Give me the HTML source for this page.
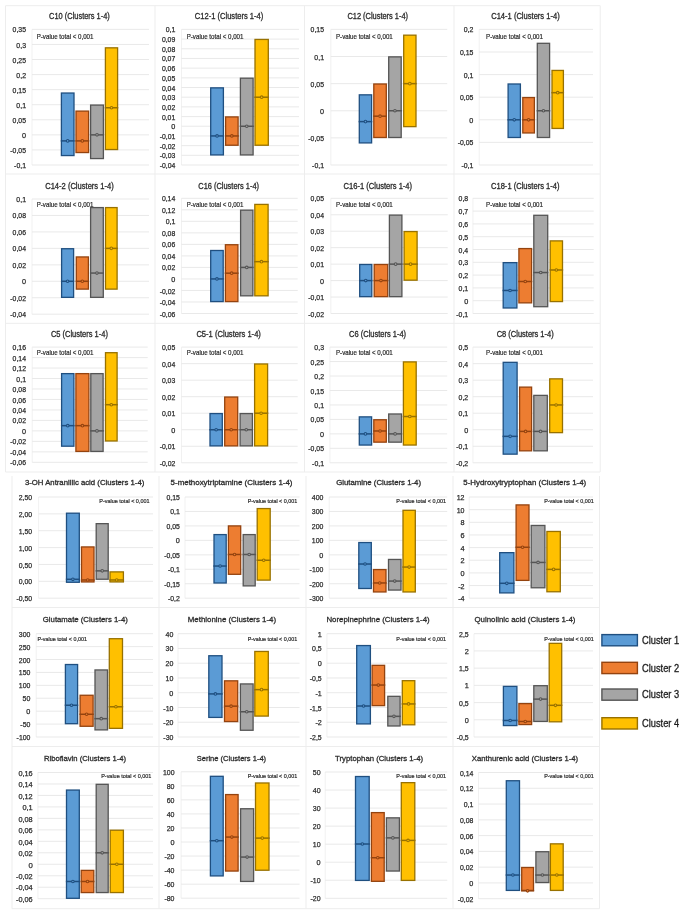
<!DOCTYPE html>
<html><head><meta charset="utf-8"><title>Clusters 1-4</title>
<style>html,body{margin:0;padding:0;background:#fff}svg{display:block}</style></head>
<body>
<svg width="685" height="914" viewBox="0 0 685 914" font-family="'Liberation Sans', sans-serif">
<rect width="685" height="914" fill="#fff"/>
<path d="M5.5 5.7H600.2M5.5 174H600.2M5.5 323.3H600.2M5.5 472H600.2M5.5 5.7V472M155 5.7V472M304.5 5.7V472M454 5.7V472M600.2 5.7V472M12 607.5H599.5M12 746.5H599.5M12 908.7H599.5M12 476V908.7M159 476V908.7M306 476V908.7M453 476V908.7M599.5 476V908.7" fill="none" stroke="#ededed" stroke-width="1"/>
<g>
<path d="M32.0 29.4V165.0" fill="none" stroke="#ededed" stroke-width="0.8"/>
<path d="M32.0 29.40H149.0M32.0 44.47H149.0M32.0 59.53H149.0M32.0 74.60H149.0M32.0 89.67H149.0M32.0 104.73H149.0M32.0 119.80H149.0M32.0 134.87H149.0M32.0 149.93H149.0M32.0 165.00H149.0" stroke="#e6e6e6" stroke-width="0.9" fill="none"/>
<g font-size="7.5" fill="#2b2b2b" stroke="#2b2b2b" stroke-width="0.25">
<text x="12.59" y="32.44" textLength="13.41" lengthAdjust="spacingAndGlyphs">0,35</text>
<text x="16.35" y="47.50" textLength="9.65" lengthAdjust="spacingAndGlyphs">0,3</text>
<text x="12.59" y="62.57" textLength="13.41" lengthAdjust="spacingAndGlyphs">0,25</text>
<text x="16.35" y="77.63" textLength="9.65" lengthAdjust="spacingAndGlyphs">0,2</text>
<text x="12.59" y="92.70" textLength="13.41" lengthAdjust="spacingAndGlyphs">0,15</text>
<text x="16.35" y="107.77" textLength="9.65" lengthAdjust="spacingAndGlyphs">0,1</text>
<text x="12.59" y="122.83" textLength="13.41" lengthAdjust="spacingAndGlyphs">0,05</text>
<text x="21.95" y="137.90" textLength="4.05" lengthAdjust="spacingAndGlyphs">0</text>
<text x="10.33" y="152.97" textLength="15.67" lengthAdjust="spacingAndGlyphs">-0,05</text>
<text x="14.08" y="168.03" textLength="11.92" lengthAdjust="spacingAndGlyphs">-0,1</text>
</g>
<rect x="61.40" y="93.03" width="12.60" height="62.53" fill="#5b9bd5" stroke="#1f4f80" stroke-width="1.3"/>
<path d="M60.75 140.89H74.65" stroke="#1f4f80" stroke-width="1.5"/>
<circle cx="67.70" cy="140.89" r="1.3" fill="#5b9bd5" stroke="#1f4f80" stroke-width="1.05"/>
<rect x="76.00" y="111.11" width="12.60" height="41.44" fill="#ed7d31" stroke="#94430f" stroke-width="1.3"/>
<path d="M75.35 140.89H89.25" stroke="#94430f" stroke-width="1.5"/>
<circle cx="82.30" cy="140.89" r="1.3" fill="#ed7d31" stroke="#94430f" stroke-width="1.05"/>
<rect x="90.60" y="105.08" width="12.80" height="53.49" fill="#a5a5a5" stroke="#555555" stroke-width="1.3"/>
<path d="M89.95 134.87H104.05" stroke="#555555" stroke-width="1.5"/>
<circle cx="97.00" cy="134.87" r="1.3" fill="#a5a5a5" stroke="#555555" stroke-width="1.05"/>
<rect x="105.40" y="47.83" width="12.20" height="101.70" fill="#ffc000" stroke="#987100" stroke-width="1.3"/>
<path d="M104.75 107.75H118.25" stroke="#987100" stroke-width="1.5"/>
<circle cx="111.50" cy="107.75" r="1.3" fill="#ffc000" stroke="#987100" stroke-width="1.05"/>
<text x="49.1" y="19" font-size="8.3" fill="#2b2b2b" stroke="#2b2b2b" stroke-width="0.3" textLength="60.7" lengthAdjust="spacingAndGlyphs">C10 (Clusters 1-4)</text>
<text x="36.7" y="38.63" font-size="6.8" fill="#2b2b2b" stroke="#2b2b2b" stroke-width="0.2" textLength="56.8" lengthAdjust="spacingAndGlyphs">P-value total &lt; 0,001</text>
</g>
<g>
<path d="M181.5 29.4V165.0" fill="none" stroke="#ededed" stroke-width="0.8"/>
<path d="M181.5 29.40H299.0M181.5 39.09H299.0M181.5 48.77H299.0M181.5 58.46H299.0M181.5 68.14H299.0M181.5 77.83H299.0M181.5 87.51H299.0M181.5 97.20H299.0M181.5 106.89H299.0M181.5 116.57H299.0M181.5 126.26H299.0M181.5 135.94H299.0M181.5 145.63H299.0M181.5 155.31H299.0M181.5 165.00H299.0" stroke="#e6e6e6" stroke-width="0.9" fill="none"/>
<g font-size="7.5" fill="#2b2b2b" stroke="#2b2b2b" stroke-width="0.25">
<text x="165.65" y="32.44" textLength="9.65" lengthAdjust="spacingAndGlyphs">0,1</text>
<text x="161.89" y="42.12" textLength="13.41" lengthAdjust="spacingAndGlyphs">0,09</text>
<text x="161.89" y="51.81" textLength="13.41" lengthAdjust="spacingAndGlyphs">0,08</text>
<text x="161.89" y="61.49" textLength="13.41" lengthAdjust="spacingAndGlyphs">0,07</text>
<text x="161.89" y="71.18" textLength="13.41" lengthAdjust="spacingAndGlyphs">0,06</text>
<text x="161.89" y="80.86" textLength="13.41" lengthAdjust="spacingAndGlyphs">0,05</text>
<text x="161.89" y="90.55" textLength="13.41" lengthAdjust="spacingAndGlyphs">0,04</text>
<text x="161.89" y="100.23" textLength="13.41" lengthAdjust="spacingAndGlyphs">0,03</text>
<text x="161.89" y="109.92" textLength="13.41" lengthAdjust="spacingAndGlyphs">0,02</text>
<text x="161.89" y="119.61" textLength="13.41" lengthAdjust="spacingAndGlyphs">0,01</text>
<text x="171.25" y="129.29" textLength="4.05" lengthAdjust="spacingAndGlyphs">0</text>
<text x="159.63" y="138.98" textLength="15.67" lengthAdjust="spacingAndGlyphs">-0,01</text>
<text x="159.63" y="148.66" textLength="15.67" lengthAdjust="spacingAndGlyphs">-0,02</text>
<text x="159.63" y="158.35" textLength="15.67" lengthAdjust="spacingAndGlyphs">-0,03</text>
<text x="159.63" y="168.03" textLength="15.67" lengthAdjust="spacingAndGlyphs">-0,04</text>
</g>
<rect x="210.70" y="87.86" width="12.70" height="67.05" fill="#5b9bd5" stroke="#1f4f80" stroke-width="1.3"/>
<path d="M210.05 135.94H224.05" stroke="#1f4f80" stroke-width="1.5"/>
<circle cx="217.05" cy="135.94" r="1.3" fill="#5b9bd5" stroke="#1f4f80" stroke-width="1.05"/>
<rect x="225.60" y="116.92" width="12.50" height="28.31" fill="#ed7d31" stroke="#94430f" stroke-width="1.3"/>
<path d="M224.95 135.94H238.75" stroke="#94430f" stroke-width="1.5"/>
<circle cx="231.85" cy="135.94" r="1.3" fill="#ed7d31" stroke="#94430f" stroke-width="1.05"/>
<rect x="240.40" y="78.18" width="12.70" height="76.74" fill="#a5a5a5" stroke="#555555" stroke-width="1.3"/>
<path d="M239.75 126.26H253.75" stroke="#555555" stroke-width="1.5"/>
<circle cx="246.75" cy="126.26" r="1.3" fill="#a5a5a5" stroke="#555555" stroke-width="1.05"/>
<rect x="255.00" y="39.44" width="13.30" height="105.79" fill="#ffc000" stroke="#987100" stroke-width="1.3"/>
<path d="M254.35 97.20H268.95" stroke="#987100" stroke-width="1.5"/>
<circle cx="261.65" cy="97.20" r="1.3" fill="#ffc000" stroke="#987100" stroke-width="1.05"/>
<text x="194.8" y="19" font-size="8.3" fill="#2b2b2b" stroke="#2b2b2b" stroke-width="0.3" textLength="68.5" lengthAdjust="spacingAndGlyphs">C12-1 (Clusters 1-4)</text>
<text x="186.7" y="38.63" font-size="6.8" fill="#2b2b2b" stroke="#2b2b2b" stroke-width="0.2" textLength="56.8" lengthAdjust="spacingAndGlyphs">P-value total &lt; 0,001</text>
</g>
<g>
<path d="M330.8 29.4V165.0" fill="none" stroke="#ededed" stroke-width="0.8"/>
<path d="M330.8 29.40H447.2M330.8 56.52H447.2M330.8 83.64H447.2M330.8 110.76H447.2M330.8 137.88H447.2M330.8 165.00H447.2" stroke="#e6e6e6" stroke-width="0.9" fill="none"/>
<g font-size="7.5" fill="#2b2b2b" stroke="#2b2b2b" stroke-width="0.25">
<text x="310.59" y="32.44" textLength="13.41" lengthAdjust="spacingAndGlyphs">0,15</text>
<text x="314.35" y="59.55" textLength="9.65" lengthAdjust="spacingAndGlyphs">0,1</text>
<text x="310.59" y="86.67" textLength="13.41" lengthAdjust="spacingAndGlyphs">0,05</text>
<text x="319.95" y="113.79" textLength="4.05" lengthAdjust="spacingAndGlyphs">0</text>
<text x="308.33" y="140.91" textLength="15.67" lengthAdjust="spacingAndGlyphs">-0,05</text>
<text x="312.08" y="168.03" textLength="11.92" lengthAdjust="spacingAndGlyphs">-0,1</text>
</g>
<rect x="359.30" y="94.84" width="12.30" height="48.07" fill="#5b9bd5" stroke="#1f4f80" stroke-width="1.3"/>
<path d="M358.65 121.61H372.25" stroke="#1f4f80" stroke-width="1.5"/>
<circle cx="365.45" cy="121.61" r="1.3" fill="#5b9bd5" stroke="#1f4f80" stroke-width="1.05"/>
<rect x="373.80" y="83.99" width="12.50" height="53.49" fill="#ed7d31" stroke="#94430f" stroke-width="1.3"/>
<path d="M373.15 116.18H386.95" stroke="#94430f" stroke-width="1.5"/>
<circle cx="380.05" cy="116.18" r="1.3" fill="#ed7d31" stroke="#94430f" stroke-width="1.05"/>
<rect x="388.70" y="56.87" width="12.50" height="80.61" fill="#a5a5a5" stroke="#555555" stroke-width="1.3"/>
<path d="M388.05 110.76H401.85" stroke="#555555" stroke-width="1.5"/>
<circle cx="394.95" cy="110.76" r="1.3" fill="#a5a5a5" stroke="#555555" stroke-width="1.05"/>
<rect x="403.70" y="35.17" width="12.30" height="91.46" fill="#ffc000" stroke="#987100" stroke-width="1.3"/>
<path d="M403.05 83.64H416.65" stroke="#987100" stroke-width="1.5"/>
<circle cx="409.85" cy="83.64" r="1.3" fill="#ffc000" stroke="#987100" stroke-width="1.05"/>
<text x="347.4" y="19" font-size="8.3" fill="#2b2b2b" stroke="#2b2b2b" stroke-width="0.3" textLength="60.7" lengthAdjust="spacingAndGlyphs">C12 (Clusters 1-4)</text>
<text x="336.0" y="38.63" font-size="6.8" fill="#2b2b2b" stroke="#2b2b2b" stroke-width="0.2" textLength="56.8" lengthAdjust="spacingAndGlyphs">P-value total &lt; 0,001</text>
</g>
<g>
<path d="M479.2 29.4V165.0" fill="none" stroke="#ededed" stroke-width="0.8"/>
<path d="M479.2 29.40H593.0M479.2 52.00H593.0M479.2 74.60H593.0M479.2 97.20H593.0M479.2 119.80H593.0M479.2 142.40H593.0M479.2 165.00H593.0" stroke="#e6e6e6" stroke-width="0.9" fill="none"/>
<g font-size="7.5" fill="#2b2b2b" stroke="#2b2b2b" stroke-width="0.25">
<text x="463.75" y="32.44" textLength="9.65" lengthAdjust="spacingAndGlyphs">0,2</text>
<text x="459.99" y="55.04" textLength="13.41" lengthAdjust="spacingAndGlyphs">0,15</text>
<text x="463.75" y="77.63" textLength="9.65" lengthAdjust="spacingAndGlyphs">0,1</text>
<text x="459.99" y="100.23" textLength="13.41" lengthAdjust="spacingAndGlyphs">0,05</text>
<text x="469.35" y="122.83" textLength="4.05" lengthAdjust="spacingAndGlyphs">0</text>
<text x="457.73" y="145.44" textLength="15.67" lengthAdjust="spacingAndGlyphs">-0,05</text>
<text x="461.48" y="168.03" textLength="11.92" lengthAdjust="spacingAndGlyphs">-0,1</text>
</g>
<rect x="508.10" y="83.99" width="12.30" height="53.49" fill="#5b9bd5" stroke="#1f4f80" stroke-width="1.3"/>
<path d="M507.45 119.80H521.05" stroke="#1f4f80" stroke-width="1.5"/>
<circle cx="514.25" cy="119.80" r="1.3" fill="#5b9bd5" stroke="#1f4f80" stroke-width="1.05"/>
<rect x="522.80" y="97.55" width="11.60" height="35.41" fill="#ed7d31" stroke="#94430f" stroke-width="1.3"/>
<path d="M522.15 119.80H535.05" stroke="#94430f" stroke-width="1.5"/>
<circle cx="528.60" cy="119.80" r="1.3" fill="#ed7d31" stroke="#94430f" stroke-width="1.05"/>
<rect x="537.30" y="43.31" width="12.30" height="94.17" fill="#a5a5a5" stroke="#555555" stroke-width="1.3"/>
<path d="M536.65 110.76H550.25" stroke="#555555" stroke-width="1.5"/>
<circle cx="543.45" cy="110.76" r="1.3" fill="#a5a5a5" stroke="#555555" stroke-width="1.05"/>
<rect x="552.00" y="70.43" width="11.40" height="58.01" fill="#ffc000" stroke="#987100" stroke-width="1.3"/>
<path d="M551.35 92.68H564.05" stroke="#987100" stroke-width="1.5"/>
<circle cx="557.70" cy="92.68" r="1.3" fill="#ffc000" stroke="#987100" stroke-width="1.05"/>
<text x="491.2" y="19" font-size="8.3" fill="#2b2b2b" stroke="#2b2b2b" stroke-width="0.3" textLength="68.5" lengthAdjust="spacingAndGlyphs">C14-1 (Clusters 1-4)</text>
<text x="486.0" y="38.63" font-size="6.8" fill="#2b2b2b" stroke="#2b2b2b" stroke-width="0.2" textLength="57.0" lengthAdjust="spacingAndGlyphs">P-value total &lt; 0,001</text>
</g>
<g>
<path d="M32.0 199.0V314.2" fill="none" stroke="#ededed" stroke-width="0.8"/>
<path d="M32.0 199.00H149.0M32.0 215.46H149.0M32.0 231.91H149.0M32.0 248.37H149.0M32.0 264.83H149.0M32.0 281.29H149.0M32.0 297.74H149.0M32.0 314.20H149.0" stroke="#e6e6e6" stroke-width="0.9" fill="none"/>
<g font-size="7.5" fill="#2b2b2b" stroke="#2b2b2b" stroke-width="0.25">
<text x="16.35" y="202.03" textLength="9.65" lengthAdjust="spacingAndGlyphs">0,1</text>
<text x="12.59" y="218.49" textLength="13.41" lengthAdjust="spacingAndGlyphs">0,08</text>
<text x="12.59" y="234.95" textLength="13.41" lengthAdjust="spacingAndGlyphs">0,06</text>
<text x="12.59" y="251.41" textLength="13.41" lengthAdjust="spacingAndGlyphs">0,04</text>
<text x="12.59" y="267.86" textLength="13.41" lengthAdjust="spacingAndGlyphs">0,02</text>
<text x="21.95" y="284.32" textLength="4.05" lengthAdjust="spacingAndGlyphs">0</text>
<text x="10.33" y="300.78" textLength="15.67" lengthAdjust="spacingAndGlyphs">-0,02</text>
<text x="10.33" y="317.24" textLength="15.67" lengthAdjust="spacingAndGlyphs">-0,04</text>
</g>
<rect x="61.60" y="248.72" width="12.00" height="48.62" fill="#5b9bd5" stroke="#1f4f80" stroke-width="1.3"/>
<path d="M60.95 281.29H74.25" stroke="#1f4f80" stroke-width="1.5"/>
<circle cx="67.60" cy="281.29" r="1.3" fill="#5b9bd5" stroke="#1f4f80" stroke-width="1.05"/>
<rect x="76.30" y="256.95" width="12.10" height="32.16" fill="#ed7d31" stroke="#94430f" stroke-width="1.3"/>
<path d="M75.65 281.29H89.05" stroke="#94430f" stroke-width="1.5"/>
<circle cx="82.35" cy="281.29" r="1.3" fill="#ed7d31" stroke="#94430f" stroke-width="1.05"/>
<rect x="90.60" y="207.58" width="12.70" height="89.76" fill="#a5a5a5" stroke="#555555" stroke-width="1.3"/>
<path d="M89.95 273.06H103.95" stroke="#555555" stroke-width="1.5"/>
<circle cx="96.95" cy="273.06" r="1.3" fill="#a5a5a5" stroke="#555555" stroke-width="1.05"/>
<rect x="105.50" y="207.58" width="11.60" height="81.54" fill="#ffc000" stroke="#987100" stroke-width="1.3"/>
<path d="M104.85 248.37H117.75" stroke="#987100" stroke-width="1.5"/>
<circle cx="111.30" cy="248.37" r="1.3" fill="#ffc000" stroke="#987100" stroke-width="1.05"/>
<text x="45.2" y="189" font-size="8.3" fill="#2b2b2b" stroke="#2b2b2b" stroke-width="0.3" textLength="68.5" lengthAdjust="spacingAndGlyphs">C14-2 (Clusters 1-4)</text>
<text x="36.7" y="207.03" font-size="6.8" fill="#2b2b2b" stroke="#2b2b2b" stroke-width="0.2" textLength="56.8" lengthAdjust="spacingAndGlyphs">P-value total &lt; 0,001</text>
</g>
<g>
<path d="M181.5 198.3V313.5" fill="none" stroke="#ededed" stroke-width="0.8"/>
<path d="M181.5 198.30H297.7M181.5 209.82H297.7M181.5 221.34H297.7M181.5 232.86H297.7M181.5 244.38H297.7M181.5 255.90H297.7M181.5 267.42H297.7M181.5 278.94H297.7M181.5 290.46H297.7M181.5 301.98H297.7M181.5 313.50H297.7" stroke="#e6e6e6" stroke-width="0.9" fill="none"/>
<g font-size="7.5" fill="#2b2b2b" stroke="#2b2b2b" stroke-width="0.25">
<text x="161.89" y="201.34" textLength="13.41" lengthAdjust="spacingAndGlyphs">0,14</text>
<text x="161.89" y="212.86" textLength="13.41" lengthAdjust="spacingAndGlyphs">0,12</text>
<text x="165.65" y="224.38" textLength="9.65" lengthAdjust="spacingAndGlyphs">0,1</text>
<text x="161.89" y="235.90" textLength="13.41" lengthAdjust="spacingAndGlyphs">0,08</text>
<text x="161.89" y="247.41" textLength="13.41" lengthAdjust="spacingAndGlyphs">0,06</text>
<text x="161.89" y="258.94" textLength="13.41" lengthAdjust="spacingAndGlyphs">0,04</text>
<text x="161.89" y="270.46" textLength="13.41" lengthAdjust="spacingAndGlyphs">0,02</text>
<text x="171.25" y="281.98" textLength="4.05" lengthAdjust="spacingAndGlyphs">0</text>
<text x="159.63" y="293.50" textLength="15.67" lengthAdjust="spacingAndGlyphs">-0,02</text>
<text x="159.63" y="305.02" textLength="15.67" lengthAdjust="spacingAndGlyphs">-0,04</text>
<text x="159.63" y="316.54" textLength="15.67" lengthAdjust="spacingAndGlyphs">-0,06</text>
</g>
<rect x="210.70" y="250.49" width="12.50" height="51.09" fill="#5b9bd5" stroke="#1f4f80" stroke-width="1.3"/>
<path d="M210.05 278.94H223.85" stroke="#1f4f80" stroke-width="1.5"/>
<circle cx="216.95" cy="278.94" r="1.3" fill="#5b9bd5" stroke="#1f4f80" stroke-width="1.05"/>
<rect x="225.40" y="244.73" width="12.50" height="56.85" fill="#ed7d31" stroke="#94430f" stroke-width="1.3"/>
<path d="M224.75 273.18H238.55" stroke="#94430f" stroke-width="1.5"/>
<circle cx="231.65" cy="273.18" r="1.3" fill="#ed7d31" stroke="#94430f" stroke-width="1.05"/>
<rect x="240.60" y="210.17" width="12.30" height="85.65" fill="#a5a5a5" stroke="#555555" stroke-width="1.3"/>
<path d="M239.95 267.42H253.55" stroke="#555555" stroke-width="1.5"/>
<circle cx="246.75" cy="267.42" r="1.3" fill="#a5a5a5" stroke="#555555" stroke-width="1.05"/>
<rect x="254.80" y="204.41" width="13.30" height="91.41" fill="#ffc000" stroke="#987100" stroke-width="1.3"/>
<path d="M254.15 261.66H268.75" stroke="#987100" stroke-width="1.5"/>
<circle cx="261.45" cy="261.66" r="1.3" fill="#ffc000" stroke="#987100" stroke-width="1.05"/>
<text x="198.3" y="189" font-size="8.3" fill="#2b2b2b" stroke="#2b2b2b" stroke-width="0.3" textLength="60.7" lengthAdjust="spacingAndGlyphs">C16 (Clusters 1-4)</text>
<text x="186.7" y="207.03" font-size="6.8" fill="#2b2b2b" stroke="#2b2b2b" stroke-width="0.2" textLength="56.8" lengthAdjust="spacingAndGlyphs">P-value total &lt; 0,001</text>
</g>
<g>
<path d="M330.8 198.3V313.5" fill="none" stroke="#ededed" stroke-width="0.8"/>
<path d="M330.8 198.30H447.7M330.8 214.76H447.7M330.8 231.21H447.7M330.8 247.67H447.7M330.8 264.13H447.7M330.8 280.59H447.7M330.8 297.04H447.7M330.8 313.50H447.7" stroke="#e6e6e6" stroke-width="0.9" fill="none"/>
<g font-size="7.5" fill="#2b2b2b" stroke="#2b2b2b" stroke-width="0.25">
<text x="310.59" y="201.34" textLength="13.41" lengthAdjust="spacingAndGlyphs">0,05</text>
<text x="310.59" y="217.79" textLength="13.41" lengthAdjust="spacingAndGlyphs">0,04</text>
<text x="310.59" y="234.25" textLength="13.41" lengthAdjust="spacingAndGlyphs">0,03</text>
<text x="310.59" y="250.71" textLength="13.41" lengthAdjust="spacingAndGlyphs">0,02</text>
<text x="310.59" y="267.16" textLength="13.41" lengthAdjust="spacingAndGlyphs">0,01</text>
<text x="319.95" y="283.62" textLength="4.05" lengthAdjust="spacingAndGlyphs">0</text>
<text x="308.33" y="300.08" textLength="15.67" lengthAdjust="spacingAndGlyphs">-0,01</text>
<text x="308.33" y="316.54" textLength="15.67" lengthAdjust="spacingAndGlyphs">-0,02</text>
</g>
<rect x="359.70" y="264.48" width="12.10" height="32.16" fill="#5b9bd5" stroke="#1f4f80" stroke-width="1.3"/>
<path d="M359.05 280.59H372.45" stroke="#1f4f80" stroke-width="1.5"/>
<circle cx="365.75" cy="280.59" r="1.3" fill="#5b9bd5" stroke="#1f4f80" stroke-width="1.05"/>
<rect x="374.20" y="264.48" width="13.50" height="32.16" fill="#ed7d31" stroke="#94430f" stroke-width="1.3"/>
<path d="M373.55 280.59H388.35" stroke="#94430f" stroke-width="1.5"/>
<circle cx="380.95" cy="280.59" r="1.3" fill="#ed7d31" stroke="#94430f" stroke-width="1.05"/>
<rect x="389.40" y="215.11" width="12.50" height="81.54" fill="#a5a5a5" stroke="#555555" stroke-width="1.3"/>
<path d="M388.75 264.13H402.55" stroke="#555555" stroke-width="1.5"/>
<circle cx="395.65" cy="264.13" r="1.3" fill="#a5a5a5" stroke="#555555" stroke-width="1.05"/>
<rect x="404.10" y="231.56" width="13.00" height="48.62" fill="#ffc000" stroke="#987100" stroke-width="1.3"/>
<path d="M403.45 264.13H417.75" stroke="#987100" stroke-width="1.5"/>
<circle cx="410.60" cy="264.13" r="1.3" fill="#ffc000" stroke="#987100" stroke-width="1.05"/>
<text x="343.6" y="189" font-size="8.3" fill="#2b2b2b" stroke="#2b2b2b" stroke-width="0.3" textLength="68.5" lengthAdjust="spacingAndGlyphs">C16-1 (Clusters 1-4)</text>
<text x="336.0" y="207.03" font-size="6.8" fill="#2b2b2b" stroke="#2b2b2b" stroke-width="0.2" textLength="56.8" lengthAdjust="spacingAndGlyphs">P-value total &lt; 0,001</text>
</g>
<g>
<path d="M472.9 198.3V313.5" fill="none" stroke="#ededed" stroke-width="0.8"/>
<path d="M472.9 198.30H593.7M472.9 211.10H593.7M472.9 223.90H593.7M472.9 236.70H593.7M472.9 249.50H593.7M472.9 262.30H593.7M472.9 275.10H593.7M472.9 287.90H593.7M472.9 300.70H593.7M472.9 313.50H593.7" stroke="#e6e6e6" stroke-width="0.9" fill="none"/>
<g font-size="7.5" fill="#2b2b2b" stroke="#2b2b2b" stroke-width="0.25">
<text x="458.55" y="201.34" textLength="9.65" lengthAdjust="spacingAndGlyphs">0,8</text>
<text x="458.55" y="214.14" textLength="9.65" lengthAdjust="spacingAndGlyphs">0,7</text>
<text x="458.55" y="226.94" textLength="9.65" lengthAdjust="spacingAndGlyphs">0,6</text>
<text x="458.55" y="239.74" textLength="9.65" lengthAdjust="spacingAndGlyphs">0,5</text>
<text x="458.55" y="252.53" textLength="9.65" lengthAdjust="spacingAndGlyphs">0,4</text>
<text x="458.55" y="265.34" textLength="9.65" lengthAdjust="spacingAndGlyphs">0,3</text>
<text x="458.55" y="278.14" textLength="9.65" lengthAdjust="spacingAndGlyphs">0,2</text>
<text x="458.55" y="290.94" textLength="9.65" lengthAdjust="spacingAndGlyphs">0,1</text>
<text x="464.15" y="303.74" textLength="4.05" lengthAdjust="spacingAndGlyphs">0</text>
<text x="456.28" y="316.54" textLength="11.92" lengthAdjust="spacingAndGlyphs">-0,1</text>
</g>
<rect x="503.20" y="262.65" width="13.70" height="45.33" fill="#5b9bd5" stroke="#1f4f80" stroke-width="1.3"/>
<path d="M502.55 290.46H517.55" stroke="#1f4f80" stroke-width="1.5"/>
<circle cx="510.05" cy="290.46" r="1.3" fill="#5b9bd5" stroke="#1f4f80" stroke-width="1.05"/>
<rect x="518.90" y="248.57" width="12.70" height="54.29" fill="#ed7d31" stroke="#94430f" stroke-width="1.3"/>
<path d="M518.25 281.50H532.25" stroke="#94430f" stroke-width="1.5"/>
<circle cx="525.25" cy="281.50" r="1.3" fill="#ed7d31" stroke="#94430f" stroke-width="1.05"/>
<rect x="533.80" y="215.29" width="13.90" height="91.41" fill="#a5a5a5" stroke="#555555" stroke-width="1.3"/>
<path d="M533.15 272.54H548.35" stroke="#555555" stroke-width="1.5"/>
<circle cx="540.75" cy="272.54" r="1.3" fill="#a5a5a5" stroke="#555555" stroke-width="1.05"/>
<rect x="550.20" y="240.89" width="12.30" height="60.69" fill="#ffc000" stroke="#987100" stroke-width="1.3"/>
<path d="M549.55 269.98H563.15" stroke="#987100" stroke-width="1.5"/>
<circle cx="556.35" cy="269.98" r="1.3" fill="#ffc000" stroke="#987100" stroke-width="1.05"/>
<text x="491.0" y="189" font-size="8.3" fill="#2b2b2b" stroke="#2b2b2b" stroke-width="0.3" textLength="68.5" lengthAdjust="spacingAndGlyphs">C18-1 (Clusters 1-4)</text>
<text x="486.0" y="207.03" font-size="6.8" fill="#2b2b2b" stroke="#2b2b2b" stroke-width="0.2" textLength="57.0" lengthAdjust="spacingAndGlyphs">P-value total &lt; 0,001</text>
</g>
<g>
<path d="M32.2 347.1V462.3" fill="none" stroke="#ededed" stroke-width="0.8"/>
<path d="M32.2 347.10H147.7M32.2 357.57H147.7M32.2 368.05H147.7M32.2 378.52H147.7M32.2 388.99H147.7M32.2 399.46H147.7M32.2 409.94H147.7M32.2 420.41H147.7M32.2 430.88H147.7M32.2 441.35H147.7M32.2 451.83H147.7M32.2 462.30H147.7" stroke="#e6e6e6" stroke-width="0.9" fill="none"/>
<g font-size="7.5" fill="#2b2b2b" stroke="#2b2b2b" stroke-width="0.25">
<text x="12.59" y="350.14" textLength="13.41" lengthAdjust="spacingAndGlyphs">0,16</text>
<text x="12.59" y="360.61" textLength="13.41" lengthAdjust="spacingAndGlyphs">0,14</text>
<text x="12.59" y="371.08" textLength="13.41" lengthAdjust="spacingAndGlyphs">0,12</text>
<text x="16.35" y="381.55" textLength="9.65" lengthAdjust="spacingAndGlyphs">0,1</text>
<text x="12.59" y="392.03" textLength="13.41" lengthAdjust="spacingAndGlyphs">0,08</text>
<text x="12.59" y="402.50" textLength="13.41" lengthAdjust="spacingAndGlyphs">0,06</text>
<text x="12.59" y="412.97" textLength="13.41" lengthAdjust="spacingAndGlyphs">0,04</text>
<text x="12.59" y="423.44" textLength="13.41" lengthAdjust="spacingAndGlyphs">0,02</text>
<text x="21.95" y="433.92" textLength="4.05" lengthAdjust="spacingAndGlyphs">0</text>
<text x="10.33" y="444.39" textLength="15.67" lengthAdjust="spacingAndGlyphs">-0,02</text>
<text x="10.33" y="454.86" textLength="15.67" lengthAdjust="spacingAndGlyphs">-0,04</text>
<text x="10.33" y="465.34" textLength="15.67" lengthAdjust="spacingAndGlyphs">-0,06</text>
</g>
<rect x="61.60" y="373.63" width="12.30" height="72.56" fill="#5b9bd5" stroke="#1f4f80" stroke-width="1.3"/>
<path d="M60.95 425.65H74.55" stroke="#1f4f80" stroke-width="1.5"/>
<circle cx="67.75" cy="425.65" r="1.3" fill="#5b9bd5" stroke="#1f4f80" stroke-width="1.05"/>
<rect x="75.90" y="373.63" width="13.00" height="77.80" fill="#ed7d31" stroke="#94430f" stroke-width="1.3"/>
<path d="M75.25 425.65H89.55" stroke="#94430f" stroke-width="1.5"/>
<circle cx="82.40" cy="425.65" r="1.3" fill="#ed7d31" stroke="#94430f" stroke-width="1.05"/>
<rect x="90.80" y="373.63" width="12.30" height="77.80" fill="#a5a5a5" stroke="#555555" stroke-width="1.3"/>
<path d="M90.15 430.88H103.75" stroke="#555555" stroke-width="1.5"/>
<circle cx="96.95" cy="430.88" r="1.3" fill="#a5a5a5" stroke="#555555" stroke-width="1.05"/>
<rect x="105.50" y="352.69" width="11.60" height="88.27" fill="#ffc000" stroke="#987100" stroke-width="1.3"/>
<path d="M104.85 404.70H117.75" stroke="#987100" stroke-width="1.5"/>
<circle cx="111.30" cy="404.70" r="1.3" fill="#ffc000" stroke="#987100" stroke-width="1.05"/>
<text x="50.9" y="337" font-size="8.3" fill="#2b2b2b" stroke="#2b2b2b" stroke-width="0.3" textLength="57.0" lengthAdjust="spacingAndGlyphs">C5 (Clusters 1-4)</text>
<text x="36.7" y="355.13" font-size="6.8" fill="#2b2b2b" stroke="#2b2b2b" stroke-width="0.2" textLength="56.8" lengthAdjust="spacingAndGlyphs">P-value total &lt; 0,001</text>
</g>
<g>
<path d="M181.5 347.1V462.8" fill="none" stroke="#ededed" stroke-width="0.8"/>
<path d="M181.5 347.10H297.7M181.5 363.63H297.7M181.5 380.16H297.7M181.5 396.69H297.7M181.5 413.21H297.7M181.5 429.74H297.7M181.5 446.27H297.7M181.5 462.80H297.7" stroke="#e6e6e6" stroke-width="0.9" fill="none"/>
<g font-size="7.5" fill="#2b2b2b" stroke="#2b2b2b" stroke-width="0.25">
<text x="161.89" y="350.14" textLength="13.41" lengthAdjust="spacingAndGlyphs">0,05</text>
<text x="161.89" y="366.66" textLength="13.41" lengthAdjust="spacingAndGlyphs">0,04</text>
<text x="161.89" y="383.19" textLength="13.41" lengthAdjust="spacingAndGlyphs">0,03</text>
<text x="161.89" y="399.72" textLength="13.41" lengthAdjust="spacingAndGlyphs">0,02</text>
<text x="161.89" y="416.25" textLength="13.41" lengthAdjust="spacingAndGlyphs">0,01</text>
<text x="171.25" y="432.78" textLength="4.05" lengthAdjust="spacingAndGlyphs">0</text>
<text x="159.63" y="449.31" textLength="15.67" lengthAdjust="spacingAndGlyphs">-0,01</text>
<text x="159.63" y="465.84" textLength="15.67" lengthAdjust="spacingAndGlyphs">-0,02</text>
</g>
<rect x="210.00" y="413.56" width="12.30" height="32.31" fill="#5b9bd5" stroke="#1f4f80" stroke-width="1.3"/>
<path d="M209.35 429.74H222.95" stroke="#1f4f80" stroke-width="1.5"/>
<circle cx="216.15" cy="429.74" r="1.3" fill="#5b9bd5" stroke="#1f4f80" stroke-width="1.05"/>
<rect x="224.70" y="397.04" width="13.00" height="48.84" fill="#ed7d31" stroke="#94430f" stroke-width="1.3"/>
<path d="M224.05 429.74H238.35" stroke="#94430f" stroke-width="1.5"/>
<circle cx="231.20" cy="429.74" r="1.3" fill="#ed7d31" stroke="#94430f" stroke-width="1.05"/>
<rect x="240.10" y="413.56" width="12.30" height="32.31" fill="#a5a5a5" stroke="#555555" stroke-width="1.3"/>
<path d="M239.45 429.74H253.05" stroke="#555555" stroke-width="1.5"/>
<circle cx="246.25" cy="429.74" r="1.3" fill="#a5a5a5" stroke="#555555" stroke-width="1.05"/>
<rect x="254.60" y="363.98" width="13.00" height="81.89" fill="#ffc000" stroke="#987100" stroke-width="1.3"/>
<path d="M253.95 413.21H268.25" stroke="#987100" stroke-width="1.5"/>
<circle cx="261.10" cy="413.21" r="1.3" fill="#ffc000" stroke="#987100" stroke-width="1.05"/>
<text x="196.4" y="337" font-size="8.3" fill="#2b2b2b" stroke="#2b2b2b" stroke-width="0.3" textLength="64.5" lengthAdjust="spacingAndGlyphs">C5-1 (Clusters 1-4)</text>
<text x="186.7" y="355.13" font-size="6.8" fill="#2b2b2b" stroke="#2b2b2b" stroke-width="0.2" textLength="56.8" lengthAdjust="spacingAndGlyphs">P-value total &lt; 0,001</text>
</g>
<g>
<path d="M329.9 347.1V462.8" fill="none" stroke="#ededed" stroke-width="0.8"/>
<path d="M329.9 347.10H447.2M329.9 361.56H447.2M329.9 376.03H447.2M329.9 390.49H447.2M329.9 404.95H447.2M329.9 419.41H447.2M329.9 433.88H447.2M329.9 448.34H447.2M329.9 462.80H447.2" stroke="#e6e6e6" stroke-width="0.9" fill="none"/>
<g font-size="7.5" fill="#2b2b2b" stroke="#2b2b2b" stroke-width="0.25">
<text x="314.35" y="350.14" textLength="9.65" lengthAdjust="spacingAndGlyphs">0,3</text>
<text x="310.59" y="364.60" textLength="13.41" lengthAdjust="spacingAndGlyphs">0,25</text>
<text x="314.35" y="379.06" textLength="9.65" lengthAdjust="spacingAndGlyphs">0,2</text>
<text x="310.59" y="393.52" textLength="13.41" lengthAdjust="spacingAndGlyphs">0,15</text>
<text x="314.35" y="407.99" textLength="9.65" lengthAdjust="spacingAndGlyphs">0,1</text>
<text x="310.59" y="422.45" textLength="13.41" lengthAdjust="spacingAndGlyphs">0,05</text>
<text x="319.95" y="436.91" textLength="4.05" lengthAdjust="spacingAndGlyphs">0</text>
<text x="308.33" y="451.37" textLength="15.67" lengthAdjust="spacingAndGlyphs">-0,05</text>
<text x="312.08" y="465.84" textLength="11.92" lengthAdjust="spacingAndGlyphs">-0,1</text>
</g>
<rect x="359.30" y="416.87" width="12.30" height="28.18" fill="#5b9bd5" stroke="#1f4f80" stroke-width="1.3"/>
<path d="M358.65 433.88H372.25" stroke="#1f4f80" stroke-width="1.5"/>
<circle cx="365.45" cy="433.88" r="1.3" fill="#5b9bd5" stroke="#1f4f80" stroke-width="1.05"/>
<rect x="373.80" y="419.76" width="12.50" height="22.39" fill="#ed7d31" stroke="#94430f" stroke-width="1.3"/>
<path d="M373.15 430.98H386.95" stroke="#94430f" stroke-width="1.5"/>
<circle cx="380.05" cy="430.98" r="1.3" fill="#ed7d31" stroke="#94430f" stroke-width="1.05"/>
<rect x="388.70" y="413.98" width="12.80" height="28.18" fill="#a5a5a5" stroke="#555555" stroke-width="1.3"/>
<path d="M388.05 433.88H402.15" stroke="#555555" stroke-width="1.5"/>
<circle cx="395.10" cy="433.88" r="1.3" fill="#a5a5a5" stroke="#555555" stroke-width="1.05"/>
<rect x="403.40" y="361.91" width="12.80" height="83.13" fill="#ffc000" stroke="#987100" stroke-width="1.3"/>
<path d="M402.75 416.52H416.85" stroke="#987100" stroke-width="1.5"/>
<circle cx="409.80" cy="416.52" r="1.3" fill="#ffc000" stroke="#987100" stroke-width="1.05"/>
<text x="349.1" y="337" font-size="8.3" fill="#2b2b2b" stroke="#2b2b2b" stroke-width="0.3" textLength="57.0" lengthAdjust="spacingAndGlyphs">C6 (Clusters 1-4)</text>
<text x="336.0" y="355.13" font-size="6.8" fill="#2b2b2b" stroke="#2b2b2b" stroke-width="0.2" textLength="56.8" lengthAdjust="spacingAndGlyphs">P-value total &lt; 0,001</text>
</g>
<g>
<path d="M472.9 347.1V462.8" fill="none" stroke="#ededed" stroke-width="0.8"/>
<path d="M472.9 347.10H593.0M472.9 363.63H593.0M472.9 380.16H593.0M472.9 396.69H593.0M472.9 413.21H593.0M472.9 429.74H593.0M472.9 446.27H593.0M472.9 462.80H593.0" stroke="#e6e6e6" stroke-width="0.9" fill="none"/>
<g font-size="7.5" fill="#2b2b2b" stroke="#2b2b2b" stroke-width="0.25">
<text x="458.55" y="350.14" textLength="9.65" lengthAdjust="spacingAndGlyphs">0,5</text>
<text x="458.55" y="366.66" textLength="9.65" lengthAdjust="spacingAndGlyphs">0,4</text>
<text x="458.55" y="383.19" textLength="9.65" lengthAdjust="spacingAndGlyphs">0,3</text>
<text x="458.55" y="399.72" textLength="9.65" lengthAdjust="spacingAndGlyphs">0,2</text>
<text x="458.55" y="416.25" textLength="9.65" lengthAdjust="spacingAndGlyphs">0,1</text>
<text x="464.15" y="432.78" textLength="4.05" lengthAdjust="spacingAndGlyphs">0</text>
<text x="456.28" y="449.31" textLength="11.92" lengthAdjust="spacingAndGlyphs">-0,1</text>
<text x="456.28" y="465.84" textLength="11.92" lengthAdjust="spacingAndGlyphs">-0,2</text>
</g>
<rect x="503.20" y="362.33" width="13.90" height="91.81" fill="#5b9bd5" stroke="#1f4f80" stroke-width="1.3"/>
<path d="M502.55 436.35H517.75" stroke="#1f4f80" stroke-width="1.5"/>
<circle cx="510.15" cy="436.35" r="1.3" fill="#5b9bd5" stroke="#1f4f80" stroke-width="1.05"/>
<rect x="519.60" y="387.12" width="12.00" height="63.71" fill="#ed7d31" stroke="#94430f" stroke-width="1.3"/>
<path d="M518.95 431.40H532.25" stroke="#94430f" stroke-width="1.5"/>
<circle cx="525.60" cy="431.40" r="1.3" fill="#ed7d31" stroke="#94430f" stroke-width="1.05"/>
<rect x="533.80" y="395.38" width="13.50" height="55.45" fill="#a5a5a5" stroke="#555555" stroke-width="1.3"/>
<path d="M533.15 431.40H547.95" stroke="#555555" stroke-width="1.5"/>
<circle cx="540.55" cy="431.40" r="1.3" fill="#a5a5a5" stroke="#555555" stroke-width="1.05"/>
<rect x="549.70" y="378.85" width="12.80" height="53.79" fill="#ffc000" stroke="#987100" stroke-width="1.3"/>
<path d="M549.05 404.95H563.15" stroke="#987100" stroke-width="1.5"/>
<circle cx="556.10" cy="404.95" r="1.3" fill="#ffc000" stroke="#987100" stroke-width="1.05"/>
<text x="496.7" y="337" font-size="8.3" fill="#2b2b2b" stroke="#2b2b2b" stroke-width="0.3" textLength="57.0" lengthAdjust="spacingAndGlyphs">C8 (Clusters 1-4)</text>
<text x="486.0" y="355.13" font-size="6.8" fill="#2b2b2b" stroke="#2b2b2b" stroke-width="0.2" textLength="57.0" lengthAdjust="spacingAndGlyphs">P-value total &lt; 0,001</text>
</g>
<g>
<path d="M38.6 497.0V598.2" fill="none" stroke="#ededed" stroke-width="0.8"/>
<path d="M38.6 497.00H153.0M38.6 513.87H153.0M38.6 530.73H153.0M38.6 547.60H153.0M38.6 564.47H153.0M38.6 581.33H153.0M38.6 598.20H153.0" stroke="#e6e6e6" stroke-width="0.9" fill="none"/>
<g font-size="7.5" fill="#2b2b2b" stroke="#2b2b2b" stroke-width="0.25">
<text x="18.79" y="500.04" textLength="13.41" lengthAdjust="spacingAndGlyphs">2,50</text>
<text x="18.79" y="516.90" textLength="13.41" lengthAdjust="spacingAndGlyphs">2,00</text>
<text x="18.79" y="533.77" textLength="13.41" lengthAdjust="spacingAndGlyphs">1,50</text>
<text x="18.79" y="550.63" textLength="13.41" lengthAdjust="spacingAndGlyphs">1,00</text>
<text x="18.79" y="567.50" textLength="13.41" lengthAdjust="spacingAndGlyphs">0,50</text>
<text x="18.79" y="584.37" textLength="13.41" lengthAdjust="spacingAndGlyphs">0,00</text>
<text x="16.53" y="601.24" textLength="15.67" lengthAdjust="spacingAndGlyphs">-0,50</text>
</g>
<rect x="66.50" y="513.19" width="12.80" height="69.08" fill="#5b9bd5" stroke="#1f4f80" stroke-width="1.3"/>
<path d="M65.85 579.30H79.95" stroke="#1f4f80" stroke-width="1.5"/>
<circle cx="72.90" cy="579.30" r="1.3" fill="#5b9bd5" stroke="#1f4f80" stroke-width="1.05"/>
<rect x="81.50" y="546.93" width="12.50" height="35.01" fill="#ed7d31" stroke="#94430f" stroke-width="1.3"/>
<path d="M80.85 579.97H94.65" stroke="#94430f" stroke-width="1.5"/>
<circle cx="87.75" cy="579.97" r="1.3" fill="#ed7d31" stroke="#94430f" stroke-width="1.05"/>
<rect x="96.20" y="523.65" width="12.00" height="55.58" fill="#a5a5a5" stroke="#555555" stroke-width="1.3"/>
<path d="M95.55 570.86H108.85" stroke="#555555" stroke-width="1.5"/>
<circle cx="102.20" cy="570.86" r="1.3" fill="#a5a5a5" stroke="#555555" stroke-width="1.05"/>
<rect x="110.00" y="571.89" width="13.40" height="10.04" fill="#ffc000" stroke="#987100" stroke-width="1.3"/>
<path d="M109.35 579.97H124.05" stroke="#987100" stroke-width="1.5"/>
<circle cx="116.70" cy="579.97" r="1.3" fill="#ffc000" stroke="#987100" stroke-width="1.05"/>
<text x="24.9" y="485" font-size="7.6" fill="#2b2b2b" stroke="#2b2b2b" stroke-width="0.3" textLength="119.4" lengthAdjust="spacingAndGlyphs">3-OH Antranillic acid (Clusters 1-4)</text>
<text x="99.3" y="503.40" font-size="5.6" fill="#2b2b2b" stroke="#2b2b2b" stroke-width="0.2" textLength="50.2" lengthAdjust="spacingAndGlyphs">P-value total &lt; 0,001</text>
</g>
<g>
<path d="M185.0 497.0V598.2" fill="none" stroke="#ededed" stroke-width="0.8"/>
<path d="M185.0 497.00H299.5M185.0 511.46H299.5M185.0 525.91H299.5M185.0 540.37H299.5M185.0 554.83H299.5M185.0 569.29H299.5M185.0 583.74H299.5M185.0 598.20H299.5" stroke="#e6e6e6" stroke-width="0.9" fill="none"/>
<g font-size="7.5" fill="#2b2b2b" stroke="#2b2b2b" stroke-width="0.25">
<text x="166.49" y="500.04" textLength="13.41" lengthAdjust="spacingAndGlyphs">0,15</text>
<text x="170.25" y="514.49" textLength="9.65" lengthAdjust="spacingAndGlyphs">0,1</text>
<text x="166.49" y="528.95" textLength="13.41" lengthAdjust="spacingAndGlyphs">0,05</text>
<text x="175.85" y="543.41" textLength="4.05" lengthAdjust="spacingAndGlyphs">0</text>
<text x="164.23" y="557.86" textLength="15.67" lengthAdjust="spacingAndGlyphs">-0,05</text>
<text x="167.98" y="572.32" textLength="11.92" lengthAdjust="spacingAndGlyphs">-0,1</text>
<text x="164.23" y="586.78" textLength="15.67" lengthAdjust="spacingAndGlyphs">-0,15</text>
<text x="167.98" y="601.24" textLength="11.92" lengthAdjust="spacingAndGlyphs">-0,2</text>
</g>
<rect x="214.00" y="534.59" width="12.20" height="48.40" fill="#5b9bd5" stroke="#1f4f80" stroke-width="1.3"/>
<path d="M213.35 566.04H226.85" stroke="#1f4f80" stroke-width="1.5"/>
<circle cx="220.10" cy="566.04" r="1.3" fill="#5b9bd5" stroke="#1f4f80" stroke-width="1.05"/>
<rect x="228.40" y="525.91" width="12.30" height="48.40" fill="#ed7d31" stroke="#94430f" stroke-width="1.3"/>
<path d="M227.75 554.48H241.35" stroke="#94430f" stroke-width="1.5"/>
<circle cx="234.55" cy="554.48" r="1.3" fill="#ed7d31" stroke="#94430f" stroke-width="1.05"/>
<rect x="243.20" y="534.59" width="12.00" height="51.30" fill="#a5a5a5" stroke="#555555" stroke-width="1.3"/>
<path d="M242.55 554.48H255.85" stroke="#555555" stroke-width="1.5"/>
<circle cx="249.20" cy="554.48" r="1.3" fill="#a5a5a5" stroke="#555555" stroke-width="1.05"/>
<rect x="257.20" y="508.57" width="13.00" height="71.54" fill="#ffc000" stroke="#987100" stroke-width="1.3"/>
<path d="M256.55 560.26H270.85" stroke="#987100" stroke-width="1.5"/>
<circle cx="263.70" cy="560.26" r="1.3" fill="#ffc000" stroke="#987100" stroke-width="1.05"/>
<text x="170.6" y="485" font-size="7.6" fill="#2b2b2b" stroke="#2b2b2b" stroke-width="0.3" textLength="121.9" lengthAdjust="spacingAndGlyphs">5-methoxytriptamine (Clusters 1-4)</text>
<text x="247.7" y="503.20" font-size="5.6" fill="#2b2b2b" stroke="#2b2b2b" stroke-width="0.2" textLength="49.5" lengthAdjust="spacingAndGlyphs">P-value total &lt; 0,001</text>
</g>
<g>
<path d="M329.2 497.0V598.2" fill="none" stroke="#ededed" stroke-width="0.8"/>
<path d="M329.2 497.00H447.2M329.2 511.46H447.2M329.2 525.91H447.2M329.2 540.37H447.2M329.2 554.83H447.2M329.2 569.29H447.2M329.2 583.74H447.2M329.2 598.20H447.2" stroke="#e6e6e6" stroke-width="0.9" fill="none"/>
<g font-size="7.5" fill="#2b2b2b" stroke="#2b2b2b" stroke-width="0.25">
<text x="311.84" y="500.04" textLength="11.56" lengthAdjust="spacingAndGlyphs">400</text>
<text x="311.84" y="514.49" textLength="11.56" lengthAdjust="spacingAndGlyphs">300</text>
<text x="311.84" y="528.95" textLength="11.56" lengthAdjust="spacingAndGlyphs">200</text>
<text x="311.84" y="543.41" textLength="11.56" lengthAdjust="spacingAndGlyphs">100</text>
<text x="319.35" y="557.86" textLength="4.05" lengthAdjust="spacingAndGlyphs">0</text>
<text x="309.58" y="572.32" textLength="13.82" lengthAdjust="spacingAndGlyphs">-100</text>
<text x="309.58" y="586.78" textLength="13.82" lengthAdjust="spacingAndGlyphs">-200</text>
<text x="309.58" y="601.24" textLength="13.82" lengthAdjust="spacingAndGlyphs">-300</text>
</g>
<rect x="358.80" y="542.54" width="12.50" height="45.95" fill="#5b9bd5" stroke="#1f4f80" stroke-width="1.3"/>
<path d="M358.15 564.02H371.95" stroke="#1f4f80" stroke-width="1.5"/>
<circle cx="365.05" cy="564.02" r="1.3" fill="#5b9bd5" stroke="#1f4f80" stroke-width="1.05"/>
<rect x="373.50" y="569.57" width="12.50" height="22.38" fill="#ed7d31" stroke="#94430f" stroke-width="1.3"/>
<path d="M372.85 582.96H386.65" stroke="#94430f" stroke-width="1.5"/>
<circle cx="379.75" cy="582.96" r="1.3" fill="#ed7d31" stroke="#94430f" stroke-width="1.05"/>
<rect x="388.50" y="559.45" width="12.50" height="30.62" fill="#a5a5a5" stroke="#555555" stroke-width="1.3"/>
<path d="M387.85 581.08H401.65" stroke="#555555" stroke-width="1.5"/>
<circle cx="394.75" cy="581.08" r="1.3" fill="#a5a5a5" stroke="#555555" stroke-width="1.05"/>
<rect x="403.00" y="510.30" width="12.30" height="81.66" fill="#ffc000" stroke="#987100" stroke-width="1.3"/>
<path d="M402.35 567.06H415.95" stroke="#987100" stroke-width="1.5"/>
<circle cx="409.15" cy="567.06" r="1.3" fill="#ffc000" stroke="#987100" stroke-width="1.05"/>
<text x="336.2" y="485" font-size="7.6" fill="#2b2b2b" stroke="#2b2b2b" stroke-width="0.3" textLength="84.8" lengthAdjust="spacingAndGlyphs">Glutamine (Clusters 1-4)</text>
<text x="396.3" y="503.20" font-size="5.6" fill="#2b2b2b" stroke="#2b2b2b" stroke-width="0.2" textLength="49.7" lengthAdjust="spacingAndGlyphs">P-value total &lt; 0,001</text>
</g>
<g>
<path d="M469.2 497.0V598.2" fill="none" stroke="#ededed" stroke-width="0.8"/>
<path d="M469.2 497.00H593.0M469.2 509.65H593.0M469.2 522.30H593.0M469.2 534.95H593.0M469.2 547.60H593.0M469.2 560.25H593.0M469.2 572.90H593.0M469.2 585.55H593.0M469.2 598.20H593.0" stroke="#e6e6e6" stroke-width="0.9" fill="none"/>
<g font-size="7.5" fill="#2b2b2b" stroke="#2b2b2b" stroke-width="0.25">
<text x="456.70" y="500.04" textLength="7.80" lengthAdjust="spacingAndGlyphs">12</text>
<text x="456.70" y="512.68" textLength="7.80" lengthAdjust="spacingAndGlyphs">10</text>
<text x="460.45" y="525.33" textLength="4.05" lengthAdjust="spacingAndGlyphs">8</text>
<text x="460.45" y="537.99" textLength="4.05" lengthAdjust="spacingAndGlyphs">6</text>
<text x="460.45" y="550.63" textLength="4.05" lengthAdjust="spacingAndGlyphs">4</text>
<text x="460.45" y="563.28" textLength="4.05" lengthAdjust="spacingAndGlyphs">2</text>
<text x="460.45" y="575.94" textLength="4.05" lengthAdjust="spacingAndGlyphs">0</text>
<text x="458.18" y="588.59" textLength="6.32" lengthAdjust="spacingAndGlyphs">-2</text>
<text x="458.18" y="601.24" textLength="6.32" lengthAdjust="spacingAndGlyphs">-4</text>
</g>
<rect x="499.70" y="552.66" width="14.20" height="40.24" fill="#5b9bd5" stroke="#1f4f80" stroke-width="1.3"/>
<path d="M499.05 583.30H514.55" stroke="#1f4f80" stroke-width="1.5"/>
<circle cx="506.80" cy="583.30" r="1.3" fill="#5b9bd5" stroke="#1f4f80" stroke-width="1.05"/>
<rect x="516.10" y="504.91" width="12.90" height="75.47" fill="#ed7d31" stroke="#94430f" stroke-width="1.3"/>
<path d="M515.45 547.25H529.65" stroke="#94430f" stroke-width="1.5"/>
<circle cx="522.55" cy="547.25" r="1.3" fill="#ed7d31" stroke="#94430f" stroke-width="1.05"/>
<rect x="531.20" y="525.46" width="13.70" height="62.31" fill="#a5a5a5" stroke="#555555" stroke-width="1.3"/>
<path d="M530.55 562.43H545.55" stroke="#555555" stroke-width="1.5"/>
<circle cx="538.05" cy="562.43" r="1.3" fill="#a5a5a5" stroke="#555555" stroke-width="1.05"/>
<rect x="546.90" y="531.47" width="13.40" height="60.29" fill="#ffc000" stroke="#987100" stroke-width="1.3"/>
<path d="M546.25 569.39H560.95" stroke="#987100" stroke-width="1.5"/>
<circle cx="553.60" cy="569.39" r="1.3" fill="#ffc000" stroke="#987100" stroke-width="1.05"/>
<text x="463.3" y="485" font-size="7.6" fill="#2b2b2b" stroke="#2b2b2b" stroke-width="0.3" textLength="122.9" lengthAdjust="spacingAndGlyphs">5-Hydroxytryptophan (Clusters 1-4)</text>
<text x="544.2" y="503.40" font-size="5.6" fill="#2b2b2b" stroke="#2b2b2b" stroke-width="0.2" textLength="49.5" lengthAdjust="spacingAndGlyphs">P-value total &lt; 0,001</text>
</g>
<g>
<path d="M36.2 633.7V737.0" fill="none" stroke="#ededed" stroke-width="0.8"/>
<path d="M36.2 633.70H153.0M36.2 646.61H153.0M36.2 659.53H153.0M36.2 672.44H153.0M36.2 685.35H153.0M36.2 698.26H153.0M36.2 711.17H153.0M36.2 724.09H153.0M36.2 737.00H153.0" stroke="#e6e6e6" stroke-width="0.9" fill="none"/>
<g font-size="7.5" fill="#2b2b2b" stroke="#2b2b2b" stroke-width="0.25">
<text x="18.84" y="636.74" textLength="11.56" lengthAdjust="spacingAndGlyphs">300</text>
<text x="18.84" y="649.65" textLength="11.56" lengthAdjust="spacingAndGlyphs">250</text>
<text x="18.84" y="662.56" textLength="11.56" lengthAdjust="spacingAndGlyphs">200</text>
<text x="18.84" y="675.47" textLength="11.56" lengthAdjust="spacingAndGlyphs">150</text>
<text x="18.84" y="688.38" textLength="11.56" lengthAdjust="spacingAndGlyphs">100</text>
<text x="22.60" y="701.30" textLength="7.80" lengthAdjust="spacingAndGlyphs">50</text>
<text x="26.35" y="714.21" textLength="4.05" lengthAdjust="spacingAndGlyphs">0</text>
<text x="20.33" y="727.12" textLength="10.07" lengthAdjust="spacingAndGlyphs">-50</text>
<text x="16.58" y="740.03" textLength="13.82" lengthAdjust="spacingAndGlyphs">-100</text>
</g>
<rect x="65.40" y="664.52" width="12.20" height="59.16" fill="#5b9bd5" stroke="#1f4f80" stroke-width="1.3"/>
<path d="M64.75 705.24H78.25" stroke="#1f4f80" stroke-width="1.5"/>
<circle cx="71.50" cy="705.24" r="1.3" fill="#5b9bd5" stroke="#1f4f80" stroke-width="1.05"/>
<rect x="80.10" y="695.26" width="13.00" height="31.01" fill="#ed7d31" stroke="#94430f" stroke-width="1.3"/>
<path d="M79.45 714.27H93.75" stroke="#94430f" stroke-width="1.5"/>
<circle cx="86.60" cy="714.27" r="1.3" fill="#ed7d31" stroke="#94430f" stroke-width="1.05"/>
<rect x="95.00" y="669.95" width="12.50" height="59.94" fill="#a5a5a5" stroke="#555555" stroke-width="1.3"/>
<path d="M94.35 718.66H108.15" stroke="#555555" stroke-width="1.5"/>
<circle cx="101.25" cy="718.66" r="1.3" fill="#a5a5a5" stroke="#555555" stroke-width="1.05"/>
<rect x="109.30" y="638.70" width="13.20" height="89.64" fill="#ffc000" stroke="#987100" stroke-width="1.3"/>
<path d="M108.65 706.78H123.15" stroke="#987100" stroke-width="1.5"/>
<circle cx="115.90" cy="706.78" r="1.3" fill="#ffc000" stroke="#987100" stroke-width="1.05"/>
<text x="42.8" y="622" font-size="8.1" fill="#2b2b2b" stroke="#2b2b2b" stroke-width="0.3" textLength="85.0" lengthAdjust="spacingAndGlyphs">Glutamate (Clusters 1-4)</text>
<text x="37.4" y="640.80" font-size="5.6" fill="#2b2b2b" stroke="#2b2b2b" stroke-width="0.2" textLength="49.5" lengthAdjust="spacingAndGlyphs">P-value total &lt; 0,001</text>
</g>
<g>
<path d="M178.0 633.7V737.0" fill="none" stroke="#ededed" stroke-width="0.8"/>
<path d="M178.0 633.70H299.5M178.0 648.46H299.5M178.0 663.21H299.5M178.0 677.97H299.5M178.0 692.73H299.5M178.0 707.49H299.5M178.0 722.24H299.5M178.0 737.00H299.5" stroke="#e6e6e6" stroke-width="0.9" fill="none"/>
<g font-size="7.5" fill="#2b2b2b" stroke="#2b2b2b" stroke-width="0.25">
<text x="165.60" y="636.74" textLength="7.80" lengthAdjust="spacingAndGlyphs">40</text>
<text x="165.60" y="651.49" textLength="7.80" lengthAdjust="spacingAndGlyphs">30</text>
<text x="165.60" y="666.25" textLength="7.80" lengthAdjust="spacingAndGlyphs">20</text>
<text x="165.60" y="681.01" textLength="7.80" lengthAdjust="spacingAndGlyphs">10</text>
<text x="169.35" y="695.76" textLength="4.05" lengthAdjust="spacingAndGlyphs">0</text>
<text x="163.33" y="710.52" textLength="10.07" lengthAdjust="spacingAndGlyphs">-10</text>
<text x="163.33" y="725.28" textLength="10.07" lengthAdjust="spacingAndGlyphs">-20</text>
<text x="163.33" y="740.03" textLength="10.07" lengthAdjust="spacingAndGlyphs">-30</text>
</g>
<rect x="208.80" y="655.74" width="13.20" height="61.67" fill="#5b9bd5" stroke="#1f4f80" stroke-width="1.3"/>
<path d="M208.15 693.91H222.65" stroke="#1f4f80" stroke-width="1.5"/>
<circle cx="215.40" cy="693.91" r="1.3" fill="#5b9bd5" stroke="#1f4f80" stroke-width="1.05"/>
<rect x="224.50" y="680.83" width="13.20" height="40.72" fill="#ed7d31" stroke="#94430f" stroke-width="1.3"/>
<path d="M223.85 706.16H238.35" stroke="#94430f" stroke-width="1.5"/>
<circle cx="231.10" cy="706.16" r="1.3" fill="#ed7d31" stroke="#94430f" stroke-width="1.05"/>
<rect x="240.40" y="683.93" width="12.70" height="46.33" fill="#a5a5a5" stroke="#555555" stroke-width="1.3"/>
<path d="M239.75 711.77H253.75" stroke="#555555" stroke-width="1.5"/>
<circle cx="246.75" cy="711.77" r="1.3" fill="#a5a5a5" stroke="#555555" stroke-width="1.05"/>
<rect x="254.80" y="651.46" width="13.50" height="64.62" fill="#ffc000" stroke="#987100" stroke-width="1.3"/>
<path d="M254.15 689.63H268.95" stroke="#987100" stroke-width="1.5"/>
<circle cx="261.55" cy="689.63" r="1.3" fill="#ffc000" stroke="#987100" stroke-width="1.05"/>
<text x="187.8" y="622" font-size="8.1" fill="#2b2b2b" stroke="#2b2b2b" stroke-width="0.3" textLength="88.3" lengthAdjust="spacingAndGlyphs">Methionine (Clusters 1-4)</text>
<text x="247.7" y="640.60" font-size="5.6" fill="#2b2b2b" stroke="#2b2b2b" stroke-width="0.2" textLength="49.5" lengthAdjust="spacingAndGlyphs">P-value total &lt; 0,001</text>
</g>
<g>
<path d="M326.9 633.7V737.0" fill="none" stroke="#ededed" stroke-width="0.8"/>
<path d="M326.9 633.70H447.2M326.9 648.46H447.2M326.9 663.21H447.2M326.9 677.97H447.2M326.9 692.73H447.2M326.9 707.49H447.2M326.9 722.24H447.2M326.9 737.00H447.2" stroke="#e6e6e6" stroke-width="0.9" fill="none"/>
<g font-size="7.5" fill="#2b2b2b" stroke="#2b2b2b" stroke-width="0.25">
<text x="317.65" y="636.74" textLength="4.05" lengthAdjust="spacingAndGlyphs">1</text>
<text x="312.05" y="651.49" textLength="9.65" lengthAdjust="spacingAndGlyphs">0,5</text>
<text x="317.65" y="666.25" textLength="4.05" lengthAdjust="spacingAndGlyphs">0</text>
<text x="309.78" y="681.01" textLength="11.92" lengthAdjust="spacingAndGlyphs">-0,5</text>
<text x="315.38" y="695.76" textLength="6.32" lengthAdjust="spacingAndGlyphs">-1</text>
<text x="309.78" y="710.52" textLength="11.92" lengthAdjust="spacingAndGlyphs">-1,5</text>
<text x="315.38" y="725.28" textLength="6.32" lengthAdjust="spacingAndGlyphs">-2</text>
<text x="309.78" y="740.03" textLength="11.92" lengthAdjust="spacingAndGlyphs">-2,5</text>
</g>
<rect x="356.70" y="645.56" width="13.70" height="78.35" fill="#5b9bd5" stroke="#1f4f80" stroke-width="1.3"/>
<path d="M356.05 706.01H371.05" stroke="#1f4f80" stroke-width="1.5"/>
<circle cx="363.55" cy="706.01" r="1.3" fill="#5b9bd5" stroke="#1f4f80" stroke-width="1.05"/>
<rect x="372.10" y="665.34" width="12.50" height="40.27" fill="#ed7d31" stroke="#94430f" stroke-width="1.3"/>
<path d="M371.45 685.05H385.25" stroke="#94430f" stroke-width="1.5"/>
<circle cx="378.35" cy="685.05" r="1.3" fill="#ed7d31" stroke="#94430f" stroke-width="1.05"/>
<rect x="387.80" y="696.33" width="12.30" height="29.65" fill="#a5a5a5" stroke="#555555" stroke-width="1.3"/>
<path d="M387.15 716.34H400.75" stroke="#555555" stroke-width="1.5"/>
<circle cx="393.95" cy="716.34" r="1.3" fill="#a5a5a5" stroke="#555555" stroke-width="1.05"/>
<rect x="402.30" y="680.68" width="12.50" height="44.11" fill="#ffc000" stroke="#987100" stroke-width="1.3"/>
<path d="M401.65 703.94H415.45" stroke="#987100" stroke-width="1.5"/>
<circle cx="408.55" cy="703.94" r="1.3" fill="#ffc000" stroke="#987100" stroke-width="1.05"/>
<text x="326.4" y="622" font-size="8.1" fill="#2b2b2b" stroke="#2b2b2b" stroke-width="0.3" textLength="103.3" lengthAdjust="spacingAndGlyphs">Norepinephrine (Clusters 1-4)</text>
<text x="396.3" y="640.60" font-size="5.6" fill="#2b2b2b" stroke="#2b2b2b" stroke-width="0.2" textLength="49.7" lengthAdjust="spacingAndGlyphs">P-value total &lt; 0,001</text>
</g>
<g>
<path d="M474.0 633.7V737.0" fill="none" stroke="#ededed" stroke-width="0.8"/>
<path d="M474.0 633.70H593.0M474.0 650.92H593.0M474.0 668.13H593.0M474.0 685.35H593.0M474.0 702.57H593.0M474.0 719.78H593.0M474.0 737.00H593.0" stroke="#e6e6e6" stroke-width="0.9" fill="none"/>
<g font-size="7.5" fill="#2b2b2b" stroke="#2b2b2b" stroke-width="0.25">
<text x="459.05" y="636.74" textLength="9.65" lengthAdjust="spacingAndGlyphs">2,5</text>
<text x="464.65" y="653.95" textLength="4.05" lengthAdjust="spacingAndGlyphs">2</text>
<text x="459.05" y="671.17" textLength="9.65" lengthAdjust="spacingAndGlyphs">1,5</text>
<text x="464.65" y="688.38" textLength="4.05" lengthAdjust="spacingAndGlyphs">1</text>
<text x="459.05" y="705.60" textLength="9.65" lengthAdjust="spacingAndGlyphs">0,5</text>
<text x="464.65" y="722.82" textLength="4.05" lengthAdjust="spacingAndGlyphs">0</text>
<text x="456.78" y="740.03" textLength="11.92" lengthAdjust="spacingAndGlyphs">-0,5</text>
</g>
<rect x="503.40" y="686.39" width="13.50" height="39.19" fill="#5b9bd5" stroke="#1f4f80" stroke-width="1.3"/>
<path d="M502.75 720.47H517.55" stroke="#1f4f80" stroke-width="1.5"/>
<circle cx="510.15" cy="720.47" r="1.3" fill="#5b9bd5" stroke="#1f4f80" stroke-width="1.05"/>
<rect x="518.90" y="703.61" width="12.70" height="20.94" fill="#ed7d31" stroke="#94430f" stroke-width="1.3"/>
<path d="M518.25 721.50H532.25" stroke="#94430f" stroke-width="1.5"/>
<circle cx="525.25" cy="721.50" r="1.3" fill="#ed7d31" stroke="#94430f" stroke-width="1.05"/>
<rect x="533.80" y="685.70" width="13.50" height="35.75" fill="#a5a5a5" stroke="#555555" stroke-width="1.3"/>
<path d="M533.15 699.12H547.95" stroke="#555555" stroke-width="1.5"/>
<circle cx="540.55" cy="699.12" r="1.3" fill="#a5a5a5" stroke="#555555" stroke-width="1.05"/>
<rect x="549.20" y="643.35" width="12.50" height="78.45" fill="#ffc000" stroke="#987100" stroke-width="1.3"/>
<path d="M548.55 705.32H562.35" stroke="#987100" stroke-width="1.5"/>
<circle cx="555.45" cy="705.32" r="1.3" fill="#ffc000" stroke="#987100" stroke-width="1.05"/>
<text x="474.5" y="622" font-size="8.1" fill="#2b2b2b" stroke="#2b2b2b" stroke-width="0.3" textLength="101.0" lengthAdjust="spacingAndGlyphs">Quinolinic acid (Clusters 1-4)</text>
<text x="544.2" y="640.60" font-size="5.6" fill="#2b2b2b" stroke="#2b2b2b" stroke-width="0.2" textLength="49.5" lengthAdjust="spacingAndGlyphs">P-value total &lt; 0,001</text>
</g>
<g>
<path d="M37.9 772.5V898.7" fill="none" stroke="#ededed" stroke-width="0.8"/>
<path d="M37.9 772.50H153.0M37.9 783.97H153.0M37.9 795.45H153.0M37.9 806.92H153.0M37.9 818.39H153.0M37.9 829.86H153.0M37.9 841.34H153.0M37.9 852.81H153.0M37.9 864.28H153.0M37.9 875.75H153.0M37.9 887.23H153.0M37.9 898.70H153.0" stroke="#e6e6e6" stroke-width="0.9" fill="none"/>
<g font-size="8.0" fill="#2b2b2b" stroke="#2b2b2b" stroke-width="0.25">
<text x="18.41" y="775.71" textLength="14.29" lengthAdjust="spacingAndGlyphs">0,16</text>
<text x="18.41" y="787.19" textLength="14.29" lengthAdjust="spacingAndGlyphs">0,14</text>
<text x="18.41" y="798.66" textLength="14.29" lengthAdjust="spacingAndGlyphs">0,12</text>
<text x="22.41" y="810.13" textLength="10.29" lengthAdjust="spacingAndGlyphs">0,1</text>
<text x="18.41" y="821.60" textLength="14.29" lengthAdjust="spacingAndGlyphs">0,08</text>
<text x="18.41" y="833.08" textLength="14.29" lengthAdjust="spacingAndGlyphs">0,06</text>
<text x="18.41" y="844.55" textLength="14.29" lengthAdjust="spacingAndGlyphs">0,04</text>
<text x="18.41" y="856.02" textLength="14.29" lengthAdjust="spacingAndGlyphs">0,02</text>
<text x="28.39" y="867.50" textLength="4.31" lengthAdjust="spacingAndGlyphs">0</text>
<text x="15.99" y="878.97" textLength="16.71" lengthAdjust="spacingAndGlyphs">-0,02</text>
<text x="15.99" y="890.44" textLength="16.71" lengthAdjust="spacingAndGlyphs">-0,04</text>
<text x="15.99" y="901.91" textLength="16.71" lengthAdjust="spacingAndGlyphs">-0,06</text>
</g>
<rect x="66.50" y="790.06" width="12.80" height="108.24" fill="#5b9bd5" stroke="#1f4f80" stroke-width="1.3"/>
<path d="M65.85 881.49H79.95" stroke="#1f4f80" stroke-width="1.5"/>
<circle cx="72.90" cy="881.49" r="1.3" fill="#5b9bd5" stroke="#1f4f80" stroke-width="1.05"/>
<rect x="81.20" y="870.37" width="12.60" height="22.20" fill="#ed7d31" stroke="#94430f" stroke-width="1.3"/>
<path d="M80.55 881.49H94.45" stroke="#94430f" stroke-width="1.5"/>
<circle cx="87.50" cy="881.49" r="1.3" fill="#ed7d31" stroke="#94430f" stroke-width="1.05"/>
<rect x="96.20" y="784.32" width="12.00" height="108.24" fill="#a5a5a5" stroke="#555555" stroke-width="1.3"/>
<path d="M95.55 852.81H108.85" stroke="#555555" stroke-width="1.5"/>
<circle cx="102.20" cy="852.81" r="1.3" fill="#a5a5a5" stroke="#555555" stroke-width="1.05"/>
<rect x="110.20" y="830.21" width="13.20" height="62.35" fill="#ffc000" stroke="#987100" stroke-width="1.3"/>
<path d="M109.55 864.28H124.05" stroke="#987100" stroke-width="1.5"/>
<circle cx="116.80" cy="864.28" r="1.3" fill="#ffc000" stroke="#987100" stroke-width="1.05"/>
<text x="43.9" y="761" font-size="8.1" fill="#2b2b2b" stroke="#2b2b2b" stroke-width="0.3" textLength="82.2" lengthAdjust="spacingAndGlyphs">Riboflavin (Clusters 1-4)</text>
<text x="101.2" y="778.20" font-size="5.6" fill="#2b2b2b" stroke="#2b2b2b" stroke-width="0.2" textLength="50.2" lengthAdjust="spacingAndGlyphs">P-value total &lt; 0,001</text>
</g>
<g>
<path d="M181.1 771.8V898.2" fill="none" stroke="#ededed" stroke-width="0.8"/>
<path d="M181.1 771.80H299.5M181.1 785.84H299.5M181.1 799.89H299.5M181.1 813.93H299.5M181.1 827.98H299.5M181.1 842.02H299.5M181.1 856.07H299.5M181.1 870.11H299.5M181.1 884.16H299.5M181.1 898.20H299.5" stroke="#e6e6e6" stroke-width="0.9" fill="none"/>
<g font-size="7.5" fill="#2b2b2b" stroke="#2b2b2b" stroke-width="0.25">
<text x="162.94" y="774.83" textLength="11.56" lengthAdjust="spacingAndGlyphs">100</text>
<text x="166.70" y="788.88" textLength="7.80" lengthAdjust="spacingAndGlyphs">80</text>
<text x="166.70" y="802.92" textLength="7.80" lengthAdjust="spacingAndGlyphs">60</text>
<text x="166.70" y="816.97" textLength="7.80" lengthAdjust="spacingAndGlyphs">40</text>
<text x="166.70" y="831.01" textLength="7.80" lengthAdjust="spacingAndGlyphs">20</text>
<text x="170.45" y="845.06" textLength="4.05" lengthAdjust="spacingAndGlyphs">0</text>
<text x="164.43" y="859.10" textLength="10.07" lengthAdjust="spacingAndGlyphs">-20</text>
<text x="164.43" y="873.15" textLength="10.07" lengthAdjust="spacingAndGlyphs">-40</text>
<text x="164.43" y="887.19" textLength="10.07" lengthAdjust="spacingAndGlyphs">-60</text>
<text x="164.43" y="901.24" textLength="10.07" lengthAdjust="spacingAndGlyphs">-80</text>
</g>
<rect x="210.40" y="776.31" width="12.80" height="99.60" fill="#5b9bd5" stroke="#1f4f80" stroke-width="1.3"/>
<path d="M209.75 840.71H223.85" stroke="#1f4f80" stroke-width="1.5"/>
<circle cx="216.80" cy="840.71" r="1.3" fill="#5b9bd5" stroke="#1f4f80" stroke-width="1.05"/>
<rect x="225.60" y="794.57" width="12.50" height="76.49" fill="#ed7d31" stroke="#94430f" stroke-width="1.3"/>
<path d="M224.95 837.06H238.75" stroke="#94430f" stroke-width="1.5"/>
<circle cx="231.85" cy="837.06" r="1.3" fill="#ed7d31" stroke="#94430f" stroke-width="1.05"/>
<rect x="240.60" y="808.75" width="13.00" height="72.70" fill="#a5a5a5" stroke="#555555" stroke-width="1.3"/>
<path d="M239.95 857.07H254.25" stroke="#555555" stroke-width="1.5"/>
<circle cx="247.10" cy="857.07" r="1.3" fill="#a5a5a5" stroke="#555555" stroke-width="1.05"/>
<rect x="255.50" y="782.98" width="13.50" height="87.24" fill="#ffc000" stroke="#987100" stroke-width="1.3"/>
<path d="M254.85 838.11H269.65" stroke="#987100" stroke-width="1.5"/>
<circle cx="262.25" cy="838.11" r="1.3" fill="#ffc000" stroke="#987100" stroke-width="1.05"/>
<text x="196.7" y="761" font-size="8.1" fill="#2b2b2b" stroke="#2b2b2b" stroke-width="0.3" textLength="69.4" lengthAdjust="spacingAndGlyphs">Serine (Clusters 1-4)</text>
<text x="247.7" y="778.00" font-size="5.6" fill="#2b2b2b" stroke="#2b2b2b" stroke-width="0.2" textLength="49.5" lengthAdjust="spacingAndGlyphs">P-value total &lt; 0,001</text>
</g>
<g>
<path d="M325.2 772.0V898.3" fill="none" stroke="#ededed" stroke-width="0.8"/>
<path d="M325.2 772.00H447.2M325.2 790.04H447.2M325.2 808.09H447.2M325.2 826.13H447.2M325.2 844.17H447.2M325.2 862.21H447.2M325.2 880.26H447.2M325.2 898.30H447.2" stroke="#e6e6e6" stroke-width="0.9" fill="none"/>
<g font-size="7.5" fill="#2b2b2b" stroke="#2b2b2b" stroke-width="0.25">
<text x="312.80" y="775.03" textLength="7.80" lengthAdjust="spacingAndGlyphs">50</text>
<text x="312.80" y="793.08" textLength="7.80" lengthAdjust="spacingAndGlyphs">40</text>
<text x="312.80" y="811.12" textLength="7.80" lengthAdjust="spacingAndGlyphs">30</text>
<text x="312.80" y="829.16" textLength="7.80" lengthAdjust="spacingAndGlyphs">20</text>
<text x="312.80" y="847.21" textLength="7.80" lengthAdjust="spacingAndGlyphs">10</text>
<text x="316.55" y="865.25" textLength="4.05" lengthAdjust="spacingAndGlyphs">0</text>
<text x="310.53" y="883.29" textLength="10.07" lengthAdjust="spacingAndGlyphs">-10</text>
<text x="310.53" y="901.33" textLength="10.07" lengthAdjust="spacingAndGlyphs">-20</text>
</g>
<rect x="355.50" y="776.52" width="13.70" height="103.90" fill="#5b9bd5" stroke="#1f4f80" stroke-width="1.3"/>
<path d="M354.85 844.01H369.85" stroke="#1f4f80" stroke-width="1.5"/>
<circle cx="362.35" cy="844.01" r="1.3" fill="#5b9bd5" stroke="#1f4f80" stroke-width="1.05"/>
<rect x="371.40" y="812.61" width="12.80" height="68.71" fill="#ed7d31" stroke="#94430f" stroke-width="1.3"/>
<path d="M370.75 857.72H384.85" stroke="#94430f" stroke-width="1.5"/>
<circle cx="377.80" cy="857.72" r="1.3" fill="#ed7d31" stroke="#94430f" stroke-width="1.05"/>
<rect x="386.40" y="817.84" width="13.00" height="53.20" fill="#a5a5a5" stroke="#555555" stroke-width="1.3"/>
<path d="M385.75 837.88H400.05" stroke="#555555" stroke-width="1.5"/>
<circle cx="392.90" cy="837.88" r="1.3" fill="#a5a5a5" stroke="#555555" stroke-width="1.05"/>
<rect x="401.30" y="782.65" width="13.50" height="97.76" fill="#ffc000" stroke="#987100" stroke-width="1.3"/>
<path d="M400.65 840.40H415.45" stroke="#987100" stroke-width="1.5"/>
<circle cx="408.05" cy="840.40" r="1.3" fill="#ffc000" stroke="#987100" stroke-width="1.05"/>
<text x="335.1" y="761" font-size="8.1" fill="#2b2b2b" stroke="#2b2b2b" stroke-width="0.3" textLength="88.0" lengthAdjust="spacingAndGlyphs">Tryptophan (Clusters 1-4)</text>
<text x="396.3" y="778.00" font-size="5.6" fill="#2b2b2b" stroke="#2b2b2b" stroke-width="0.2" textLength="49.7" lengthAdjust="spacingAndGlyphs">P-value total &lt; 0,001</text>
</g>
<g>
<path d="M478.5 772.5V898.7" fill="none" stroke="#ededed" stroke-width="0.8"/>
<path d="M478.5 772.50H593.0M478.5 788.27H593.0M478.5 804.05H593.0M478.5 819.83H593.0M478.5 835.60H593.0M478.5 851.38H593.0M478.5 867.15H593.0M478.5 882.93H593.0M478.5 898.70H593.0" stroke="#e6e6e6" stroke-width="0.9" fill="none"/>
<g font-size="7.5" fill="#2b2b2b" stroke="#2b2b2b" stroke-width="0.25">
<text x="459.99" y="775.53" textLength="13.41" lengthAdjust="spacingAndGlyphs">0,14</text>
<text x="459.99" y="791.31" textLength="13.41" lengthAdjust="spacingAndGlyphs">0,12</text>
<text x="463.75" y="807.08" textLength="9.65" lengthAdjust="spacingAndGlyphs">0,1</text>
<text x="459.99" y="822.86" textLength="13.41" lengthAdjust="spacingAndGlyphs">0,08</text>
<text x="459.99" y="838.63" textLength="13.41" lengthAdjust="spacingAndGlyphs">0,06</text>
<text x="459.99" y="854.41" textLength="13.41" lengthAdjust="spacingAndGlyphs">0,04</text>
<text x="459.99" y="870.19" textLength="13.41" lengthAdjust="spacingAndGlyphs">0,02</text>
<text x="469.35" y="885.96" textLength="4.05" lengthAdjust="spacingAndGlyphs">0</text>
<text x="457.73" y="901.74" textLength="15.67" lengthAdjust="spacingAndGlyphs">-0,02</text>
</g>
<rect x="506.30" y="780.74" width="13.20" height="109.67" fill="#5b9bd5" stroke="#1f4f80" stroke-width="1.3"/>
<path d="M505.65 875.04H520.15" stroke="#1f4f80" stroke-width="1.5"/>
<circle cx="512.90" cy="875.04" r="1.3" fill="#5b9bd5" stroke="#1f4f80" stroke-width="1.05"/>
<rect x="521.70" y="867.50" width="11.80" height="22.91" fill="#ed7d31" stroke="#94430f" stroke-width="1.3"/>
<path d="M521.05 890.81H534.15" stroke="#94430f" stroke-width="1.5"/>
<circle cx="527.60" cy="890.81" r="1.3" fill="#ed7d31" stroke="#94430f" stroke-width="1.05"/>
<rect x="535.90" y="851.73" width="13.00" height="30.80" fill="#a5a5a5" stroke="#555555" stroke-width="1.3"/>
<path d="M535.25 875.04H549.55" stroke="#555555" stroke-width="1.5"/>
<circle cx="542.40" cy="875.04" r="1.3" fill="#a5a5a5" stroke="#555555" stroke-width="1.05"/>
<rect x="550.40" y="843.84" width="12.80" height="46.57" fill="#ffc000" stroke="#987100" stroke-width="1.3"/>
<path d="M549.75 875.04H563.85" stroke="#987100" stroke-width="1.5"/>
<circle cx="556.80" cy="875.04" r="1.3" fill="#ffc000" stroke="#987100" stroke-width="1.05"/>
<text x="471.8" y="761" font-size="8.1" fill="#2b2b2b" stroke="#2b2b2b" stroke-width="0.3" textLength="106.3" lengthAdjust="spacingAndGlyphs">Xanthurenic acid (Clusters 1-4)</text>
<text x="544.2" y="778.00" font-size="5.6" fill="#2b2b2b" stroke="#2b2b2b" stroke-width="0.2" textLength="49.5" lengthAdjust="spacingAndGlyphs">P-value total &lt; 0,001</text>
</g>
<rect x="601.9" y="634.6" width="35.5" height="11.2" fill="#5b9bd5" stroke="#1f4f80" stroke-width="1.4"/>
<text x="642" y="643.9" font-size="10.6" fill="#1c1c1c" stroke="#1c1c1c" stroke-width="0.3" textLength="37.2" lengthAdjust="spacingAndGlyphs">Cluster 1</text>
<rect x="601.9" y="662.3" width="35.5" height="11.3" fill="#ed7d31" stroke="#94430f" stroke-width="1.4"/>
<text x="642" y="671.7" font-size="10.6" fill="#1c1c1c" stroke="#1c1c1c" stroke-width="0.3" textLength="37.2" lengthAdjust="spacingAndGlyphs">Cluster 2</text>
<rect x="601.9" y="689.0" width="35.5" height="11.2" fill="#a5a5a5" stroke="#555555" stroke-width="1.4"/>
<text x="642" y="698.3" font-size="10.6" fill="#1c1c1c" stroke="#1c1c1c" stroke-width="0.3" textLength="37.2" lengthAdjust="spacingAndGlyphs">Cluster 3</text>
<rect x="601.9" y="717.7" width="35.5" height="11.3" fill="#ffc000" stroke="#987100" stroke-width="1.4"/>
<text x="642" y="727.1" font-size="10.6" fill="#1c1c1c" stroke="#1c1c1c" stroke-width="0.3" textLength="37.2" lengthAdjust="spacingAndGlyphs">Cluster 4</text>
</svg>
</body></html>
